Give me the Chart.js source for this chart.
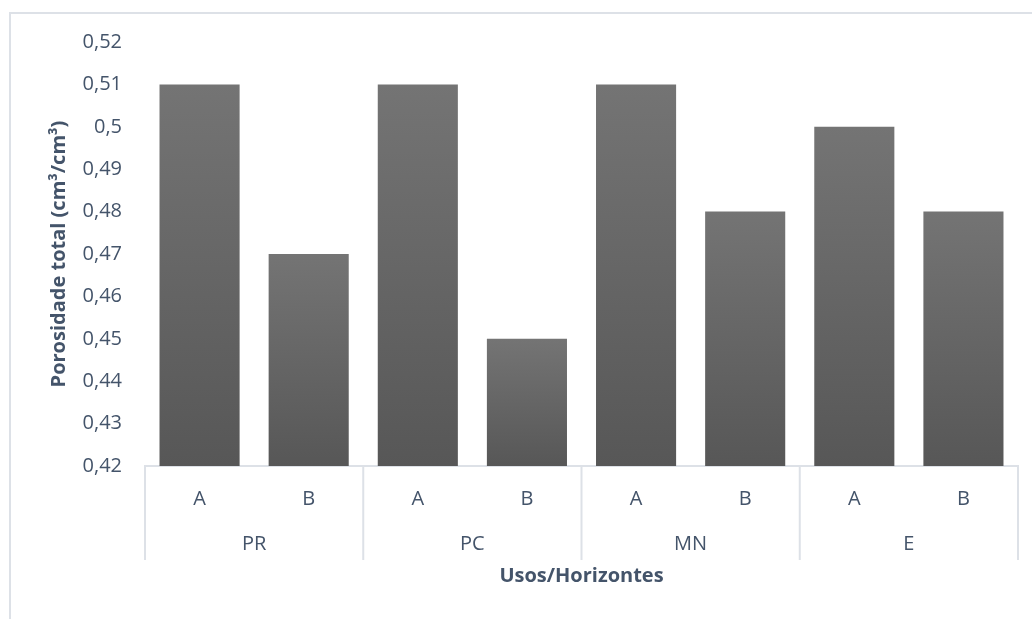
<!DOCTYPE html>
<html>
<head>
<meta charset="utf-8">
<script src="https://cdn.jsdelivr.net/npm/chart.js@4/dist/chart.umd.min.js"></script>
<style>
  html, body { margin: 0; padding: 0; background: #ffffff; }
  canvas { display: block; }
</style>
</head>
<body>
<canvas id="chart" width="1032" height="619"></canvas>
<script>
// Horizon labels (inner axis row) and land-use groups (outer axis row)
const horizons = ['A', 'B', 'A', 'B', 'A', 'B', 'A', 'B'];
const usos = ['PR', 'PC', 'MN', 'E'];
// Total porosity per use/horizon (cm³/cm³)
const porosidade = [0.51, 0.47, 0.51, 0.45, 0.51, 0.48, 0.50, 0.48];
// Value axis range
const yMin = 0.42;
const yMax = 0.52;
const yStep = 0.01;

const textColor = '#44546a';
const lineColor = '#dde1e7';
const fontFamily = '"Open Sans", "DejaVu Sans", sans-serif';

// Light grey at the bar top fading to darker grey at its base
function barGradient(ctx) {
  const chart = ctx.chart;
  if (!chart.chartArea || ctx.type !== 'data') return '#666666';
  const y = chart.scales.y;
  const top = y.getPixelForValue(ctx.raw);
  const bottom = y.getPixelForValue(y.min);
  const g = chart.ctx.createLinearGradient(0, top, 0, bottom);
  g.addColorStop(0, '#747474');
  g.addColorStop(1, '#575757');
  return g;
}

// Frame around the whole chart
const framePlugin = {
  id: 'frame',
  beforeDraw(chart) {
    const c = chart.ctx;
    c.save();
    c.strokeStyle = lineColor;
    c.lineWidth = 2;
    c.strokeRect(10, 13, chart.width + 20, chart.height + 20);
    c.restore();
  }
};

// Vertical separators between the land-use groups, spanning both axis rows
const groupLinesPlugin = {
  id: 'groupLines',
  afterDraw(chart) {
    const x = chart.scales.x;
    const x2 = chart.scales.x2;
    const step = x.getPixelForValue(1) - x.getPixelForValue(0);
    const per = horizons.length / usos.length;
    const top = x.top;
    const bottom = x2.top + x2.options.ticks.padding + 28;
    const c = chart.ctx;
    c.save();
    c.strokeStyle = lineColor;
    c.lineWidth = 2;
    for (let i = 0; i <= usos.length; i++) {
      const px = x.getPixelForValue(i * per) - step / 2;
      c.beginPath();
      c.moveTo(px, top);
      c.lineTo(px, bottom);
      c.stroke();
    }
    c.restore();
  }
};

new Chart(document.getElementById('chart'), {
  type: 'bar',
  data: {
    labels: horizons,
    datasets: [{
      data: porosidade,
      backgroundColor: barGradient,
      borderWidth: 0,
      categoryPercentage: 1,
      barPercentage: 0.734
    }]
  },
  options: {
    responsive: false,
    animation: false,
    devicePixelRatio: 1,
    layout: { padding: { left: 47, top: 42, right: 14, bottom: 31 } },
    plugins: {
      legend: { display: false },
      tooltip: { enabled: false }
    },
    scales: {
      y: {
        min: yMin,
        max: yMax,
        grid: { display: false, drawTicks: false },
        border: { display: false },
        ticks: {
          stepSize: yStep,
          padding: 23,
          color: textColor,
          font: { family: fontFamily, size: 20 },
          callback: (v) => Number(v.toFixed(2)).toString().replace('.', ',')
        },
        title: {
          display: true,
          text: 'Porosidade total (cm³/cm³)',
          color: textColor,
          font: { family: fontFamily, size: 20, weight: 'bold' },
          padding: { top: 0, bottom: 0 }
        },
        afterFit: (s) => { s.width = 98; }
      },
      x: {
        weight: 0,
        grid: { display: false, drawTicks: false },
        border: { display: true, color: lineColor, width: 2 },
        ticks: {
          padding: 21,
          color: textColor,
          font: { family: fontFamily, size: 20 }
        },
        afterFit: (s) => { s.height = 56; }
      },
      x2: {
        type: 'category',
        position: 'bottom',
        labels: usos,
        offset: true,
        weight: 1,
        grid: { display: false, drawTicks: false },
        border: { display: false },
        ticks: {
          padding: 10,
          color: textColor,
          font: { family: fontFamily, size: 20 }
        },
        title: {
          display: true,
          text: 'Usos/Horizontes',
          color: textColor,
          font: { family: fontFamily, size: 20, weight: 'bold' },
          padding: { top: 0, bottom: 0 }
        },
        afterFit: (s) => { s.height = 66; }
      }
    }
  },
  plugins: [framePlugin, groupLinesPlugin]
});
</script>
</body>
</html>
